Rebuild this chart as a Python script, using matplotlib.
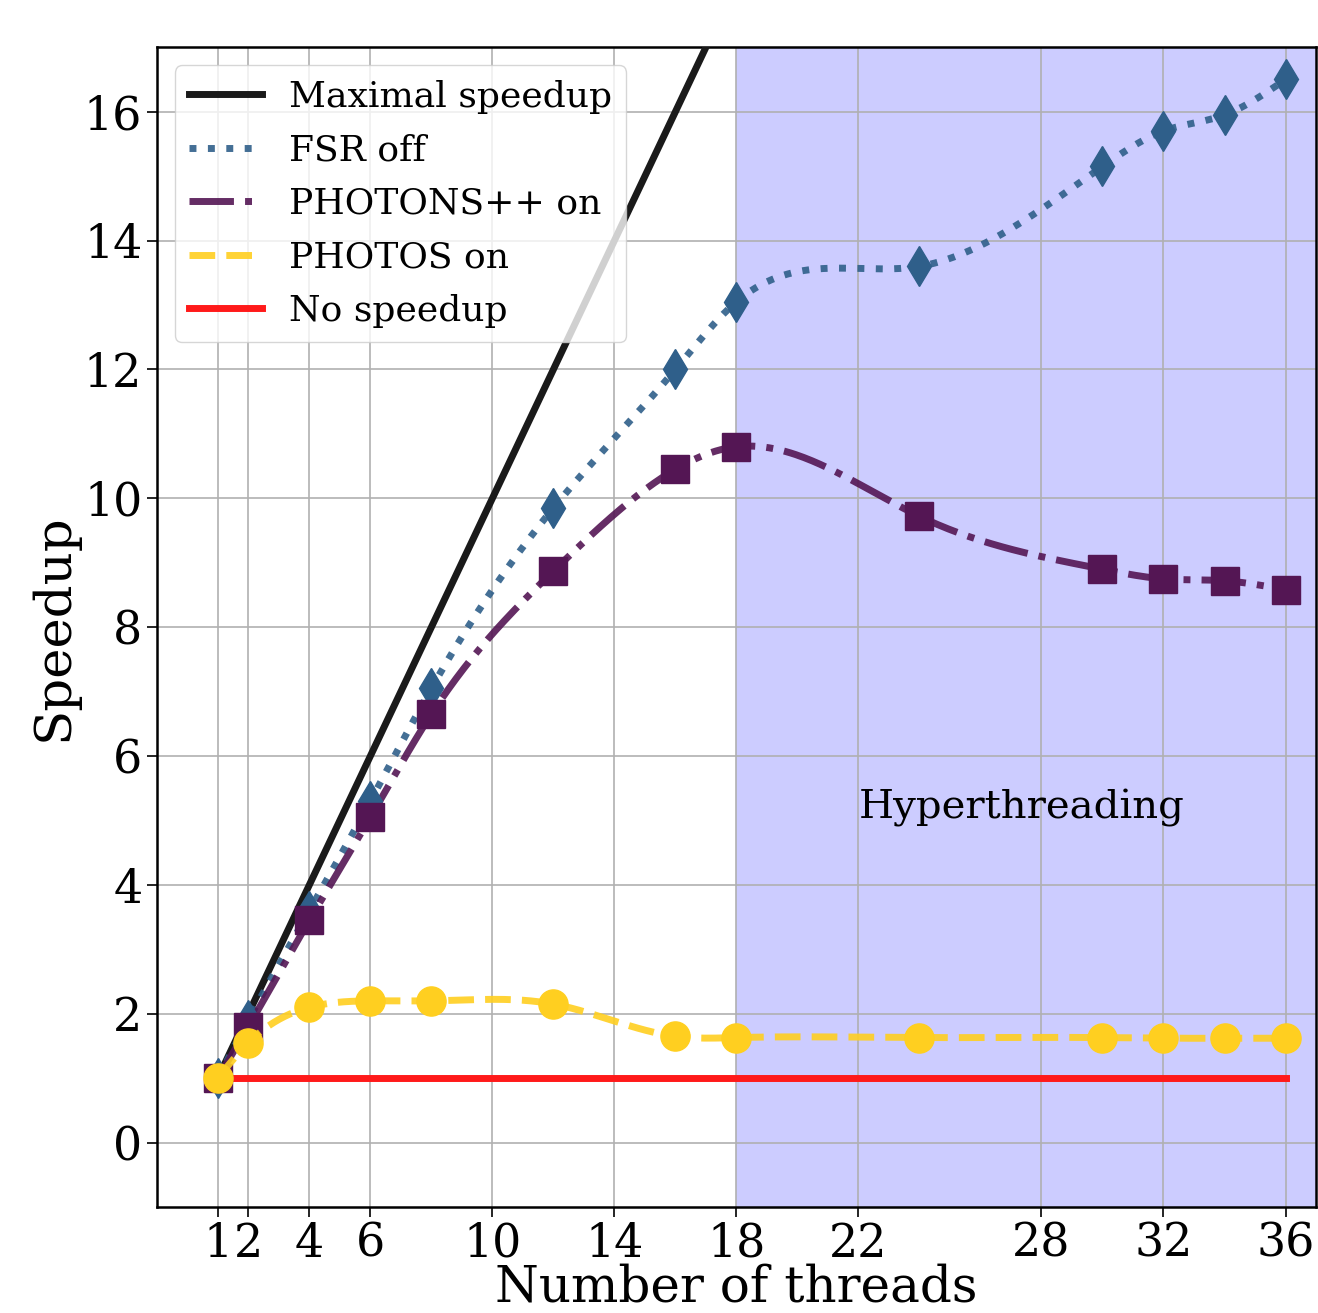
import numpy as np
import matplotlib
matplotlib.use("Agg")
import matplotlib.pyplot as plt

plt.rcParams['font.family'] = ['DejaVu Serif']

threads = [1, 2, 4, 6, 8, 12, 16, 18, 24, 30, 32, 34, 36]
fsr_off = [1.0, 1.9, 3.6, 5.3, 7.05, 9.85, 12.0, 13.05, 13.6, 15.15, 15.7, 15.95, 16.5]
photons_on = [1.0, 1.8, 3.45, 5.05, 6.65, 8.87, 10.45, 10.8, 9.72, 8.9, 8.75, 8.72, 8.58]
photos_on = [1.0, 1.55, 2.1, 2.2, 2.2, 2.15, 1.65, 1.63, 1.63, 1.63, 1.62, 1.62, 1.62]
xticks = [1, 2, 4, 6, 10, 14, 18, 22, 28, 32, 36]


def smooth(x, y, n=400):
    # natural cubic spline through the measured points, for drawing only
    x = np.asarray(x, float)
    y = np.asarray(y, float)
    k = len(x)
    h = np.diff(x)
    A = np.zeros((k, k))
    b = np.zeros(k)
    A[0, 0] = A[-1, -1] = 1
    for i in range(1, k - 1):
        A[i, i - 1] = h[i - 1]
        A[i, i] = 2 * (h[i - 1] + h[i])
        A[i, i + 1] = h[i]
        b[i] = 6 * ((y[i + 1] - y[i]) / h[i] - (y[i] - y[i - 1]) / h[i - 1])
    m = np.linalg.solve(A, b)
    xs = np.linspace(x[0], x[-1], n)
    idx = np.clip(np.searchsorted(x, xs) - 1, 0, k - 2)
    x0, x1 = x[idx], x[idx + 1]
    hh = x1 - x0
    t0, t1 = x1 - xs, xs - x0
    ys = (m[idx] * t0**3 + m[idx + 1] * t1**3) / (6 * hh) \
        + (y[idx] / hh - m[idx] * hh / 6) * t0 \
        + (y[idx + 1] / hh - m[idx + 1] * hh / 6) * t1
    return xs, ys


c_fsr = '#2f5f8a'
c_photons = '#541654'
c_photos = '#ffcf20'

fig = plt.figure(figsize=(13.18, 13.13), dpi=100)
ax = fig.add_axes([0.119, 0.0807, 0.8795, 0.8833])

ax.axvspan(18, 37, color='blue', alpha=0.2, lw=0, zorder=0)
ax.grid(True, color='#b0b0b0', lw=1.2)

ax.plot(threads, threads, color='#1a1a1a', lw=5, label='Maximal speedup', zorder=3)

xs, ys = smooth(threads, fsr_off)
ax.plot(xs, ys, ':', color=c_fsr, lw=5, alpha=0.9, label='FSR off', zorder=3)
ax.plot(threads, fsr_off, 'd', color=c_fsr, ms=20, zorder=4)

xs, ys = smooth(threads, photons_on)
ax.plot(xs, ys, '-.', color=c_photons, lw=5, alpha=0.9, label='PHOTONS++ on', zorder=3)
ax.plot(threads, photons_on, 's', color=c_photons, ms=20, zorder=4)

xs, ys = smooth(threads, photos_on)
ax.plot(xs, ys, '--', color=c_photos, lw=5, alpha=0.9, label='PHOTOS on', zorder=5)
ax.plot(threads, photos_on, 'o', color=c_photos, ms=21, zorder=6)

ax.plot([threads[0], threads[-1]], [1, 1], color='#ff1a1a', lw=5, label='No speedup', zorder=3)

ax.text(22, 5.2, 'Hyperthreading', fontsize=29, va='center', ha='left')

ax.set_xlim(-1, 37)
ax.set_ylim(-1, 17)
ax.set_xticks(xticks)
ax.set_yticks(range(0, 17, 2))
ax.tick_params(labelsize=33, length=7, width=1.2)
for s in ax.spines.values():
    s.set_linewidth(1.8)
ax.set_xlabel('Number of threads', fontsize=36, labelpad=-3)
ax.set_ylabel('Speedup', fontsize=37)

ax.legend(loc='upper left', fontsize=26, handlelength=2.0, handletextpad=0.75,
          labelspacing=0.54, framealpha=0.8)

plt.savefig('out.png', dpi=100)
